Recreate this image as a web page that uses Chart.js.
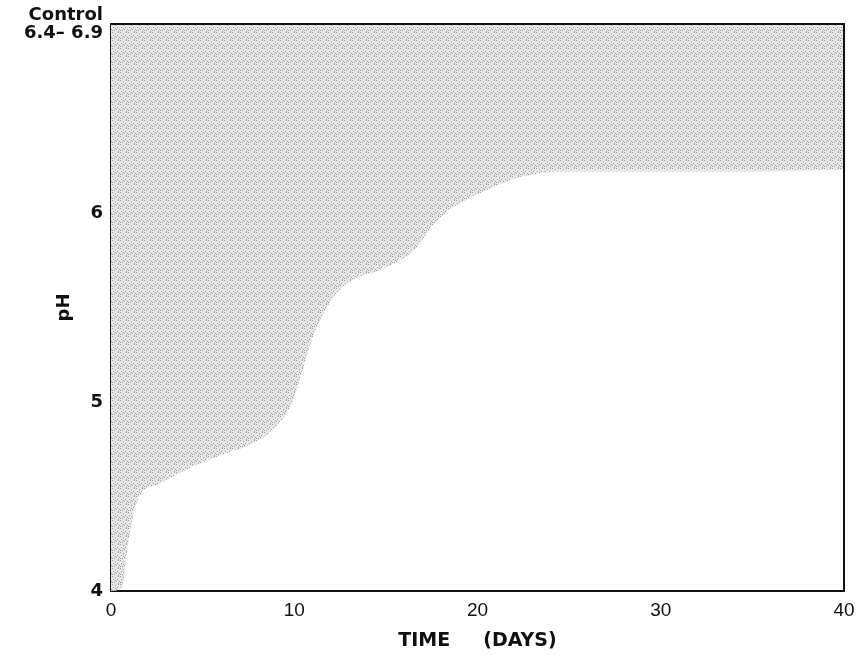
<!DOCTYPE html>
<html>
<head>
<meta charset="utf-8">
<script src="https://cdn.jsdelivr.net/npm/chart.js@4/dist/chart.umd.min.js"></script>
<style>
  html, body { margin: 0; padding: 0; background: #ffffff; }
  canvas { display: block; }
</style>
</head>
<body>
<canvas id="c" width="859" height="655"></canvas>
<script>
// Lower boundary of the shaded pH range over time (shaded up to control level)
const days     = [0, 0.6, 0.9, 1.4, 2.7, 4.5, 6.3, 7.7, 9.0, 9.9, 10.4, 11.0, 11.9, 12.9, 14.7, 16.5, 17.8, 19.0, 20.5, 22.3, 24.7, 30, 35, 40];
const lowerPH  = [4.0, 4.02, 4.23, 4.47, 4.57, 4.66, 4.73, 4.78, 4.87, 5.0, 5.15, 5.34, 5.52, 5.63, 5.70, 5.80, 5.96, 6.05, 6.12, 6.19, 6.22, 6.22, 6.22, 6.23];
const xTicks   = [0, 10, 20, 30, 40];
const yTicks   = [4, 5, 6, 7];
const controlLabel = ['Control', '6.4\u2013 6.9'];

// stipple pattern for the shaded area (fixed dot layout)
function stipple() {
  const p = document.createElement('canvas');
  p.width = 8; p.height = 8;
  const g = p.getContext('2d');
  g.fillStyle = '#e8e8e8';
  g.fillRect(0, 0, 8, 8);
  g.fillStyle = '#9a9a9a';
  const dots = [[0,0],[3,1],[6,0],[1,3],[5,3],[7,5],[2,6],[4,5],[0,6],[6,7],[3,4]];
  dots.forEach(d => g.fillRect(d[0], d[1], 1, 1));
  return g.createPattern(p, 'repeat');
}

const frame = {
  id: 'frame',
  afterDatasetsDraw(chart) {
    const a = chart.chartArea, ctx = chart.ctx;
    ctx.save();
    ctx.strokeStyle = '#111';
    ctx.lineWidth = 2;
    ctx.beginPath();
    ctx.moveTo(a.left, a.top);
    ctx.lineTo(a.right, a.top);
    ctx.lineTo(a.right, a.bottom);
    ctx.stroke();
    ctx.restore();
  }
};

new Chart(document.getElementById('c'), {
  type: 'line',
  data: {
    datasets: [{
      data: days.map((d, i) => ({ x: d, y: lowerPH[i] })),
      fill: 'end',
      backgroundColor: stipple(),
      borderWidth: 0,
      borderColor: 'rgba(0,0,0,0)',
      pointRadius: 0,
      cubicInterpolationMode: 'monotone'
    }]
  },
  options: {
    responsive: false,
    animation: false,
    layout: { padding: { left: 0, right: 15, top: 24, bottom: 0 } },
    plugins: { legend: { display: false }, tooltip: { enabled: false } },
    scales: {
      x: {
        type: 'linear',
        min: 0, max: 40,
        afterBuildTicks: s => { s.ticks = xTicks.map(v => ({ value: v })); },
        afterFit: s => { s.height = 64; },
        grid: { display: false, drawTicks: true, tickLength: 6, tickColor: '#111' },
        border: { display: true, color: '#111', width: 2 },
        ticks: {
          color: '#111',
          padding: 2,
          font: { family: "'Liberation Sans Narrow', 'Liberation Sans', sans-serif", size: 19 }
        },
        title: {
          display: true,
          text: 'TIME     (DAYS)',
          color: '#111',
          padding: { top: 0, bottom: 3 },
          font: { family: "'DejaVu Sans', sans-serif", size: 19, weight: 'bold' }
        }
      },
      y: {
        type: 'linear',
        min: 4, max: 7,
        afterBuildTicks: s => { s.ticks = yTicks.map(v => ({ value: v })); },
        afterFit: s => { s.width = 111; },
        grid: { display: false, drawTicks: true, tickLength: 7, tickColor: '#111' },
        border: { display: true, color: '#111', width: 2 },
        ticks: {
          color: '#111',
          padding: 1,
          font: { family: "'DejaVu Sans', sans-serif", size: 18, weight: 'bold', lineHeight: 1.0 },
          callback: v => v === 7 ? controlLabel : String(v)
        },
        title: {
          display: true,
          text: 'pH',
          color: '#111',
          padding: { top: 54, bottom: 0 },
          font: { family: "'DejaVu Sans', sans-serif", size: 18, weight: 'bold' }
        }
      }
    }
  },
  plugins: [frame]
});
</script>
</body>
</html>
